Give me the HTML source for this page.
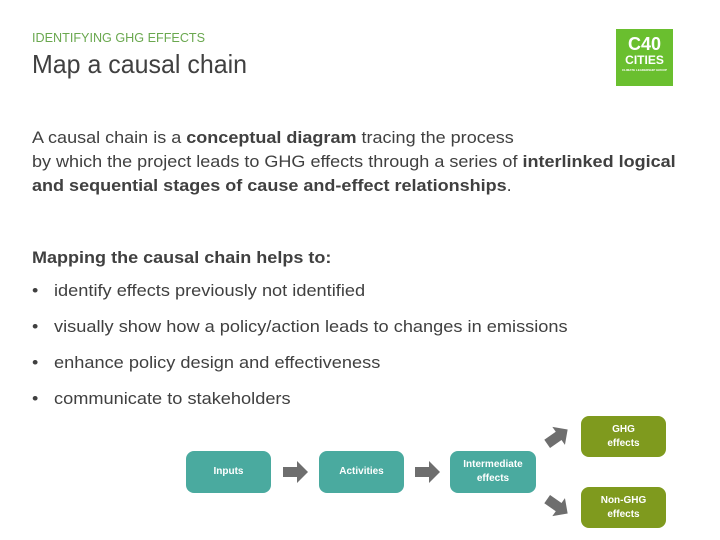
<!DOCTYPE html>
<html><head><meta charset="utf-8"><style>
body{margin:0;width:720px;height:540px;background:#fff;position:relative;overflow:hidden;font-family:"Liberation Sans",sans-serif;color:#404040}
.t{position:absolute;white-space:nowrap;transform-origin:left center;transform:scaleX(1.06)}
.b{position:absolute;border-radius:8px;color:#fff;font-weight:bold;font-size:10px;display:flex;align-items:center;justify-content:center;text-align:center;line-height:14px}
.teal{background:#4aaa9f}.olive{background:#7f9a1e}
</style></head><body>
<div class="t" style="left:32px;top:30px;font-size:13px;color:#6aa84f;transform:scaleX(0.97)">IDENTIFYING GHG EFFECTS</div>
<div class="t" style="left:32px;top:49px;font-size:26px;color:#404040;transform:scaleX(0.96)">Map a causal chain</div>
<div style="position:absolute;left:616px;top:29px;width:57px;height:57px;background:#6abf2f;color:#fff;font-weight:bold;text-align:center">
<div style="font-size:18px;line-height:18px;margin-top:6px">C40</div>
<div style="font-size:12px;line-height:14px">CITIES</div>
<div style="font-size:3px;line-height:6px">CLIMATE LEADERSHIP GROUP</div></div>
<div class="t" style="left:32px;top:128px;font-size:17px">A causal chain is a <b>conceptual diagram</b> tracing the process</div>
<div class="t" style="left:32px;top:152px;font-size:17px">by which the project leads to GHG effects through a series of <b>interlinked logical</b></div>
<div class="t" style="left:32px;top:176px;font-size:17px"><b>and sequential stages of cause and-effect relationships</b>.</div>
<div class="t" style="left:32px;top:248px;font-size:17px"><b>Mapping the causal chain helps to:</b></div>
<div class="t" style="left:32px;top:281px;font-size:17px">•</div>
<div class="t" style="left:32px;top:317px;font-size:17px">•</div>
<div class="t" style="left:32px;top:353px;font-size:17px">•</div>
<div class="t" style="left:32px;top:389px;font-size:17px">•</div>
<div class="t" style="left:54px;top:281px;font-size:17px;transform:scaleX(1.07)">identify effects previously not identified</div>
<div class="t" style="left:54px;top:317px;font-size:17px;transform:scaleX(1.07)">visually show how a policy/action leads to changes in emissions</div>
<div class="t" style="left:54px;top:353px;font-size:17px;transform:scaleX(1.07)">enhance policy design and effectiveness</div>
<div class="t" style="left:54px;top:389px;font-size:17px;transform:scaleX(1.07)">communicate to stakeholders</div>
<div class="b teal" style="left:186px;top:451px;width:85px;height:42px">Inputs</div>
<div class="b teal" style="left:319px;top:451px;width:85px;height:42px">Activities</div>
<div class="b teal" style="left:450px;top:451px;width:86px;height:42px">Intermediate<br>effects</div>
<div class="b olive" style="left:581px;top:416px;width:85px;height:41px">GHG<br>effects</div>
<div class="b olive" style="left:581px;top:487px;width:85px;height:41px">Non-GHG<br>effects</div>
<svg style="position:absolute;left:0;top:0" width="720" height="540">
<g fill="#6e6e6e">
<polygon points="283,467 297,467 297,461 308,472 297,483 297,477 283,477"/>
<polygon points="415,467 429,467 429,461 440,472 429,483 429,477 415,477"/>
<g transform="translate(557,437) rotate(-35)"><polygon points="-12,-5 2,-5 2,-11 13,0 2,11 2,5 -12,5"/></g>
<g transform="translate(557,506) rotate(35)"><polygon points="-12,-5 2,-5 2,-11 13,0 2,11 2,5 -12,5"/></g>
</g></svg>
</body></html>
